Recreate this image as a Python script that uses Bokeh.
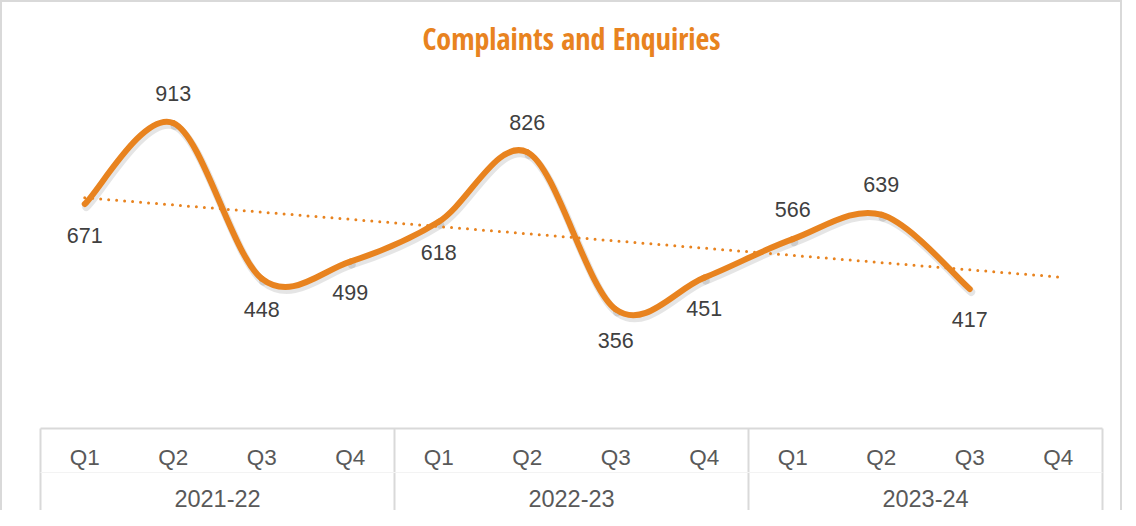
import numpy as np
from bokeh.plotting import figure
from bokeh.models import Range1d, LinearAxis, FixedTicker, ColumnDataSource
from bokeh.embed import file_html
from bokeh.resources import INLINE
from bokeh.core.properties import value

# ---- data ----
years = ["2021-22", "2022-23", "2023-24"]
quarters = ["Q1", "Q2", "Q3", "Q4"]
counts = [671, 913, 448, 499, 618, 826, 356, 451, 566, 639, 417]
label_side = ["below", "above", "below", "below", "below", "above",
              "below", "below", "above", "above", "below"]

ORANGE = "#E8831F"
GRID = "#d9d9d9"

n_slots = len(years) * len(quarters)
xs = np.arange(1, len(counts) + 1, dtype=float)
ys = np.array(counts, dtype=float)

W, H = 1122, 510
BL, BR, BT, BB = 38, 22, 58, 84
Y_MAX = 1100

p = figure(width=W, height=H, output_backend="svg", toolbar_location=None,
           x_range=Range1d(0.5, n_slots + 0.5), y_range=Range1d(0, Y_MAX),
           x_axis_type=None, y_axis_type=None,
           min_border_left=BL, min_border_right=BR,
           min_border_top=BT, min_border_bottom=BB)
p.outline_line_color = None
p.background_fill_color = "white"
p.border_fill_color = "white"
p.styles = {"border-top": "2px solid #d9d9d9", "border-left": "2px solid #d9d9d9",
            "border-right": "2px solid #d9d9d9"}

p.title.text = "Complaints and Enquiries"
p.title.align = "center"
p.title.text_font = ("'Open Sans Condensed', 'Noto Sans Condensed', 'DejaVu Sans Condensed', "
                     "'Liberation Sans Narrow', 'Roboto Condensed', Roboto, sans-serif")
p.title.text_font_size = "30px"
p.title.text_font_style = "bold"
p.title.text_color = ORANGE
p.title.standoff = 3

# ---- smoothed line (Catmull-Rom as cubic Bezier) ----
n = len(xs)
x0, y0, x1, y1, cx0, cy0, cx1, cy1 = ([] for _ in range(8))
for i in range(n - 1):
    a = i - 1 if i > 0 else i
    d = i + 2 if i + 2 < n else i + 1
    x0.append(xs[i]); y0.append(ys[i]); x1.append(xs[i + 1]); y1.append(ys[i + 1])
    cx0.append(xs[i] + (xs[i + 1] - xs[a]) / 6); cy0.append(ys[i] + (ys[i + 1] - ys[a]) / 6)
    cx1.append(xs[i + 1] - (xs[d] - xs[i]) / 6); cy1.append(ys[i + 1] - (ys[d] - ys[i]) / 6)
x0, y0, x1, y1, cx0, cy0, cx1, cy1 = map(np.array, (x0, y0, x1, y1, cx0, cy0, cx1, cy1))

# shadow offset (pixels -> data units)
frame_w = W - BL - BR
frame_h = H - BT - BB
sdx = 1.5 * n_slots / frame_w
sdy = -3.0 * Y_MAX / frame_h
p.bezier(x0=x0 + sdx, y0=y0 + sdy, x1=x1 + sdx, y1=y1 + sdy,
         cx0=cx0 + sdx, cy0=cy0 + sdy, cx1=cx1 + sdx, cy1=cy1 + sdy,
         line_color="black", line_alpha=0.10, line_width=8, line_cap="round")

# trendline (linear fit, forecast forward one period)
m, b = np.polyfit(xs, ys, 1)
tx = np.array([xs[0], float(n_slots)])
p.line(tx, m * tx + b, line_color=ORANGE, line_width=3, line_dash="0 8", line_cap="round")

p.bezier(x0=x0, y0=y0, x1=x1, y1=y1, cx0=cx0, cy0=cy0, cx1=cx1, cy1=cy1,
         line_color=ORANGE, line_width=6, line_cap="round")

# data labels
dy = [-30 if s == "above" else 31 for s in label_side]
src = ColumnDataSource(dict(x=xs, y=ys, t=[str(c) for c in counts], dy=dy))
p.text(x="x", y="y", text="t", y_offset="dy", source=src,
       text_align="center", text_baseline="middle",
       text_font=value("Liberation Sans"), text_font_size="21.5px", text_color="#404040")

# ---- category axis (two levels) ----
q_ticks = list(range(1, n_slots + 1))
bounds = [0.5 + k * len(quarters) for k in range(len(years) + 1)]
ax1 = LinearAxis(ticker=FixedTicker(ticks=q_ticks, minor_ticks=bounds),
                 major_label_overrides={t: quarters[(t - 1) % len(quarters)] for t in q_ticks})
ax1.axis_line_color = GRID
ax1.axis_line_width = 2
ax1.major_tick_line_color = None
ax1.major_tick_in = 0
ax1.major_tick_out = 0
ax1.minor_tick_line_color = GRID
ax1.minor_tick_line_width = 2
ax1.minor_tick_in = -90
ax1.minor_tick_out = 0
ax1.major_label_text_font = "Liberation Sans"
ax1.major_label_text_font_size = "22.5px"
ax1.major_label_text_color = "#595959"
ax1.major_label_standoff = 16
p.add_layout(ax1, "below")

y_ticks = [2.5 + k * len(quarters) for k in range(len(years))]
ax2 = LinearAxis(ticker=FixedTicker(ticks=y_ticks, minor_ticks=[]),
                 major_label_overrides={t: years[k] for k, t in enumerate(y_ticks)})
ax2.axis_line_color = "#f3f3f3"
ax2.axis_line_width = 1
ax2.major_tick_line_color = None
ax2.minor_tick_line_color = None
ax2.major_tick_in = 0
ax2.major_tick_out = 0
ax2.major_label_text_font = "Liberation Sans"
ax2.major_label_text_font_size = "23.5px"
ax2.major_label_text_color = "#595959"
ax2.major_label_standoff = 17
p.add_layout(ax2, "below")

open("out.html", "w").write(file_html(p, INLINE))
